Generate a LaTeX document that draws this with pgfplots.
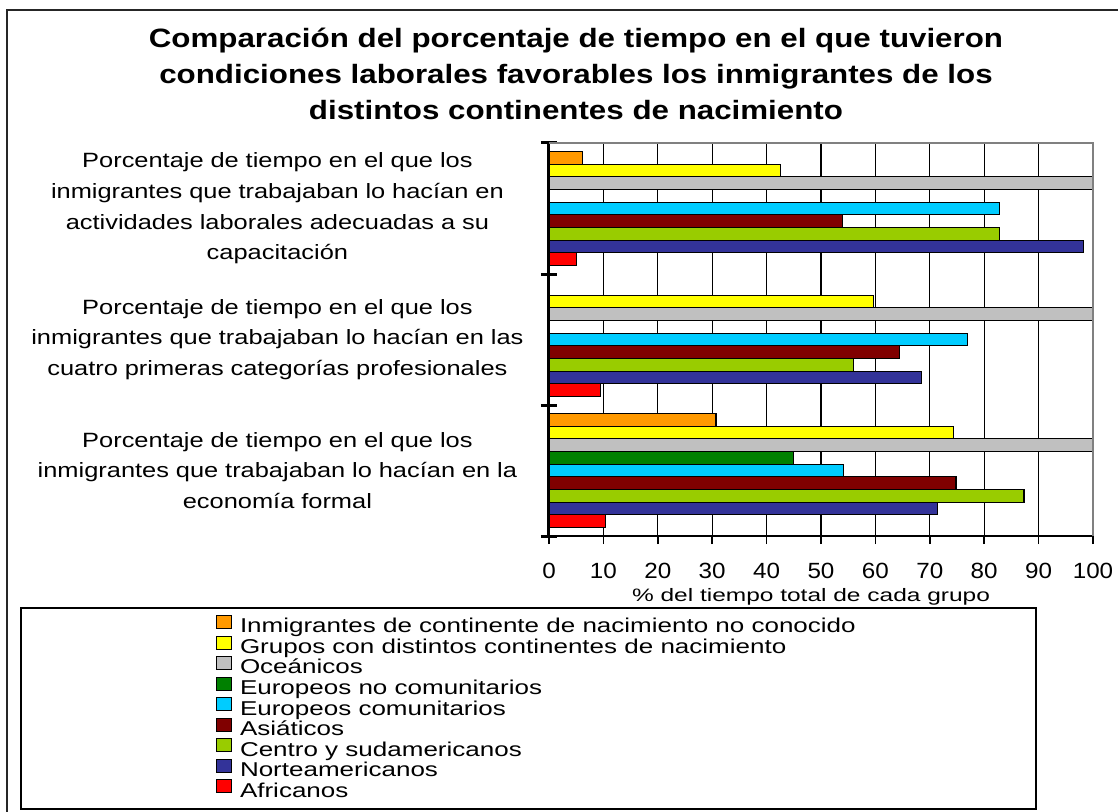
\documentclass[border=0pt]{standalone}
\usepackage{fontspec}
\setmainfont{Liberation Sans}
\newfontfamily\titfont[FakeStretch=1.18]{Liberation Sans}
\newfontfamily\catfont[FakeStretch=1.23]{Liberation Sans}
\newfontfamily\tickfont[FakeStretch=1.1]{Liberation Sans}
\newfontfamily\legfont[FakeStretch=1.3]{Liberation Sans}
\newfontfamily\labfont[FakeStretch=1.36]{Liberation Sans}
\usepackage{pgfplots}
\pgfplotsset{compat=1.18}
\definecolor{cOrange}{HTML}{FF9900}
\definecolor{cYellow}{HTML}{FFFF00}
\definecolor{cGray}{HTML}{C0C0C0}
\definecolor{cGreen}{HTML}{008000}
\definecolor{cCyan}{HTML}{00CCFF}
\definecolor{cDarkRed}{HTML}{800000}
\definecolor{cYGreen}{HTML}{99CC00}
\definecolor{cNavy}{HTML}{333399}
\definecolor{cRed}{HTML}{FF0000}
\pgfplotsset{
  bb/.style={fill=#1, draw=black, line width=0.9pt,
    legend image code/.code={\draw[##1,line width=0.8pt] (0pt,0pt) rectangle (11.25pt,9.75pt);}},
}
\begin{document}
\begin{tikzpicture}
\path[use as bounding box] (0pt,0pt) rectangle (838.5pt,-609pt);
% outer frame (right and bottom sides lie outside the picture)
\draw[line width=1.5pt, black!85] (5.25pt,-620pt) -- (5.25pt,-7.5pt) -- (850pt,-7.5pt);
% legend frame
\draw[line width=1.2pt] (15.75pt,-456pt) rectangle (777pt,-606.75pt);
% title
\node[align=center, anchor=base, inner sep=0pt,
      font=\titfont\bfseries\fontsize{19.9pt}{27pt}\selectfont]
  at (432pt,-89.6pt)
  {Comparación del porcentaje de tiempo en el que tuvieron\\
   condiciones laborales favorables los inmigrantes de los\\
   distintos continentes de nacimiento};
\begin{axis}[
  at={(411.75pt,-402pt)}, anchor=south west,
  scale only axis, width=408pt, height=294.75pt,
  xbar, bar width=0.0966,
  xmin=0, xmax=100, ymin=-0.5, ymax=2.5,
  clip=false,
  xtick={0,10,...,100},
  ytick={0,1,2},
  yticklabels={
    {Porcentaje de tiempo en el que los\\inmigrantes que trabajaban lo hacían en la\\economía formal},
    {Porcentaje de tiempo en el que los\\inmigrantes que trabajaban lo hacían en las\\cuatro primeras categorías profesionales},
    {Porcentaje de tiempo en el que los\\inmigrantes que trabajaban lo hacían en\\actividades laborales adecuadas a su\\capacitación}},
  axis lines*=left,
  axis line style={-},
  x axis line style={line width=1.1pt},
  y axis line style={line width=2.25pt},
  tick pos=left,
  tick align=outside, major tick length=6pt,
  xtick style={line width=1.1pt, black},
  ytick style={draw=none},
  extra y ticks={-0.5,0.5,1.5,2.5},
  extra y tick labels={},
  extra y tick style={ytick style={draw=black, line width=2.25pt}, tick align=center, major tick length=12pt},
  xmajorgrids, major grid style={black, line width=0.9pt},
  yticklabel style={font=\catfont\fontsize{15.5pt}{23pt}\selectfont, text width=395pt, align=center, inner sep=0pt},
  xticklabel style={font=\tickfont\fontsize{16.5pt}{18pt}\selectfont, inner sep=0pt, anchor=north, yshift=-14.25pt},
  /pgf/number format/assume math mode=true,
  xlabel={\% del tiempo total de cada grupo},
  xlabel style={at={(axis description cs:0.4816,0)}, anchor=base, yshift=-48.75pt, inner sep=0pt,
     font=\labfont\fontsize{13.5pt}{16pt}\selectfont},
  legend style={at={(-0.6127,-0.2010)}, anchor=north west, draw=none, fill=none,
     inner sep=0pt, outer sep=0pt,
     font=\legfont\fontsize{15pt}{15.4pt}\selectfont,
     nodes={inner sep=0pt, text height=11pt, text depth=4.4pt},
     column sep=6.2pt, row sep=-2.45pt},
  legend cell align=left,
]
\addplot[bb=cOrange, bar shift=0.3864] coordinates {(30.7,0) (6.1,2)};
\addplot[bb=cYellow, bar shift=0.2898] coordinates {(74.4,0) (59.6,1) (42.5,2)};
\addplot[bb=cGray, bar shift=0.1932] coordinates {(100,0) (100,1) (100,2)};
\addplot[bb=cGreen, bar shift=0.0966] coordinates {(45.0,0)};
\addplot[bb=cCyan, bar shift=0] coordinates {(54.2,0) (76.9,1) (82.8,2)};
\addplot[bb=cDarkRed, bar shift=-0.0966] coordinates {(74.8,0) (64.4,1) (53.9,2)};
\addplot[bb=cYGreen, bar shift=-0.1932] coordinates {(87.3,0) (56.0,1) (82.8,2)};
\addplot[bb=cNavy, bar shift=-0.2898] coordinates {(71.4,0) (68.5,1) (98.3,2)};
\addplot[bb=cRed, bar shift=-0.3864] coordinates {(10.4,0) (9.4,1) (5.0,2)};
\legend{Inmigrantes de continente de nacimiento no conocido,
  Grupos con distintos continentes de nacimiento,
  Oceánicos,
  Europeos no comunitarios,
  Europeos comunitarios,
  Asiáticos,
  Centro y sudamericanos,
  Norteamericanos,
  Africanos}
\draw[gray, line width=1.1pt] (rel axis cs:0,1) -- (rel axis cs:1,1) -- (rel axis cs:1,0);
\end{axis}
\end{tikzpicture}
\end{document}
